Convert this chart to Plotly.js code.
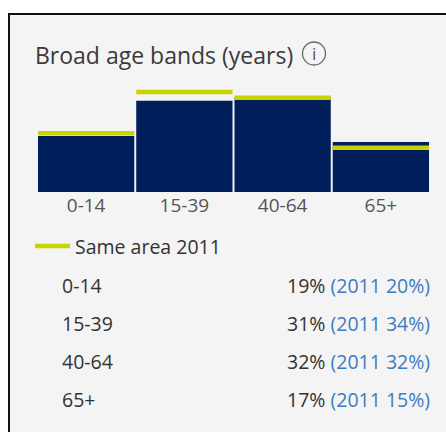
<!DOCTYPE html>
<html>
<head>
<meta charset="utf-8">
<script src="https://cdn.plot.ly/plotly-3.0.1.min.js"></script>
<style>
html,body{margin:0;padding:0;background:#fff;}
#chart{width:446px;height:432px;}
</style>
</head>
<body>
<div id="chart"></div>
<script>
var categories = ["0-14", "15-39", "40-64", "65+"];
var values2021 = [19, 31, 32, 17];
var values2011 = [20, 34, 32, 15];
var legendLabel = "Same area 2011";
var titleText = "Broad age bands (years)";

var W = 446, H = 432;
function px(x){ return x / W; }
function py(y){ return 1 - y / H; }

var idx = categories.map(function(c, i){ return i; });

var barTrace = {
  type: "bar",
  x: idx,
  y: values2021,
  marker: {color: "#001f5b", line: {width: 0}},
  hoverinfo: "skip",
  showlegend: false
};

var lx = [], ly = [];
values2011.forEach(function(v, i){
  lx.push(i - 0.49, i + 0.49, null);
  ly.push(v, v, null);
});
var lineTrace = {
  type: "scatter",
  mode: "lines",
  x: lx,
  y: ly,
  line: {color: "#c8d400", width: 4.5},
  cliponaxis: false,
  name: legendLabel,
  hoverinfo: "skip",
  showlegend: false
};

var rowY = [285, 323, 361, 399];
var annotations = [
  {xref: "paper", yref: "paper", x: px(33), y: py(55), xanchor: "left", yanchor: "middle",
   text: titleText, showarrow: false, font: {family: "Open Sans", size: 23, color: "#3a3a3a"}},
  {xref: "paper", yref: "paper", x: px(314), y: py(53.5), xanchor: "center", yanchor: "middle",
   text: "i", showarrow: false, font: {family: "Open Sans", size: 17, color: "#555"}},
  {xref: "paper", yref: "paper", x: px(73), y: py(246), xanchor: "left", yanchor: "middle",
   text: legendLabel, showarrow: false, font: {family: "Open Sans", size: 19.5, color: "#333"}}
];
categories.forEach(function(c, i){
  annotations.push({xref: "paper", yref: "paper", x: px(60), y: py(rowY[i]), xanchor: "left", yanchor: "middle",
    text: c, showarrow: false, font: {family: "Open Sans", size: 19.5, color: "#333"}});
  annotations.push({xref: "paper", yref: "paper", x: px(432), y: py(rowY[i]), xanchor: "right", yanchor: "middle",
    text: values2021[i] + "% <span style='color:#3d7cc0'>(2011 " + values2011[i] + "%)</span>",
    showarrow: false, font: {family: "Open Sans", size: 19.5, color: "#333"}});
});

var layout = {
  width: W, height: H,
  margin: {l: 0, r: 0, t: 0, b: 0},
  paper_bgcolor: "#ffffff",
  plot_bgcolor: "rgba(0,0,0,0)",
  bargap: 0.02,
  font: {family: "Open Sans", color: "#555"},
  xaxis: {
    domain: [px(37), px(430)],
    range: [-0.5, 3.5],
    tickvals: idx,
    ticktext: categories,
    showgrid: false, zeroline: false, showline: false,
    ticks: "", tickfont: {family: "Open Sans", size: 19, color: "#555"},
    fixedrange: true
  },
  yaxis: {
    domain: [py(192), py(89)],
    range: [0, 35],
    visible: false,
    fixedrange: true
  },
  showlegend: false,
  shapes: [
    {type: "rect", xref: "paper", yref: "paper", layer: "below",
     x0: px(9), x1: px(460), y0: py(14), y1: py(450),
     fillcolor: "#f4f4f4", line: {color: "#111", width: 2}},
    {type: "circle", xref: "paper", yref: "paper",
     x0: px(302.5), x1: px(325.5), y0: py(42), y1: py(65),
     line: {color: "#666", width: 1.3}},
    {type: "line", xref: "paper", yref: "paper",
     x0: px(35), x1: px(70), y0: py(246), y1: py(246),
     line: {color: "#c8d400", width: 4.5}}
  ],
  annotations: annotations
};

Plotly.newPlot("chart", [barTrace, lineTrace], layout, {displayModeBar: false, staticPlot: true});
</script>
</body>
</html>
